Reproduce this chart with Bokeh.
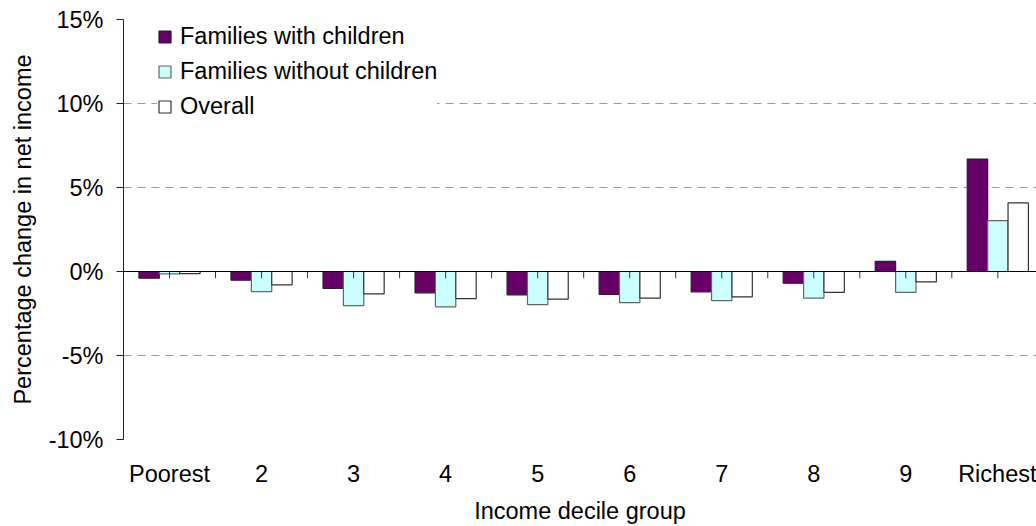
from bokeh.plotting import figure
from bokeh.models import (ColumnDataSource, FixedTicker, PrintfTickFormatter, Span,
                          Legend, LegendItem, Range1d)
from bokeh.embed import file_html
from bokeh.resources import INLINE

categories = ["Poorest", "2", "3", "4", "5", "6", "7", "8", "9", "Richest"]
with_children = [-0.40, -0.52, -1.00, -1.27, -1.39, -1.37, -1.21, -0.70, 0.60, 6.69]
without_children = [-0.14, -1.20, -2.03, -2.11, -1.97, -1.85, -1.73, -1.59, -1.24, 3.03]
overall = [-0.13, -0.80, -1.33, -1.61, -1.65, -1.59, -1.51, -1.24, -0.62, 4.08]
y_ticks = [-10, -5, 0, 5, 10, 15]

FONT = "Liberation Sans"
FS = "23.5px"
BW = 0.2215

n = len(categories)
idx = list(range(n))

p = figure(width=1036, height=526, output_backend="svg", toolbar_location=None,
           x_range=Range1d(-0.5, n - 0.58), y_range=Range1d(-10, 15),
           min_border_top=19, min_border_left=123, min_border_right=0, min_border_bottom=0)
p.outline_line_color = None
p.background_fill_color = "white"
p.border_fill_color = "white"

series = [
    ("Families with children", with_children, "#660066", "#222222", -BW),
    ("Families without children", without_children, "#CCFFFF", "#666666", 0.0),
    ("Overall", overall, "#FFFFFF", "#333333", BW),
]
items = []
for label, vals, fill, line, off in series:
    src = ColumnDataSource(dict(x=[i + off for i in idx], top=vals))
    r = p.vbar(x="x", top="top", bottom=0, width=BW, source=src,
               fill_color=fill, line_color=line, line_width=1.2)
    items.append(LegendItem(label=label, renderers=[r]))

# category tick marks on the zero line
tx = [i * 0.5 - 0.5 for i in range(2 * n + 1)]
p.segment(x0=tx, y0=[0] * len(tx), x1=tx, y1=[-0.4] * len(tx), line_color="#333333", line_width=1)

p.add_layout(Span(location=0, dimension="width", line_color="black", line_width=1.2))

# y axis
p.yaxis.ticker = FixedTicker(ticks=y_ticks)
p.yaxis.formatter = PrintfTickFormatter(format="%d%%")
p.yaxis.axis_line_color = "#222222"
p.yaxis.major_tick_line_color = "#222222"
p.yaxis.major_tick_out = 7
p.yaxis.major_tick_in = 0
p.yaxis.minor_tick_line_color = None
p.yaxis.major_label_standoff = 13
p.yaxis.major_label_text_font = FONT
p.yaxis.major_label_text_font_size = FS
p.yaxis.major_label_text_color = "black"
p.yaxis.axis_label = "Percentage change in net income"
p.yaxis.axis_label_text_font = FONT
p.yaxis.axis_label_text_font_size = FS
p.yaxis.axis_label_text_font_style = "normal"
p.yaxis.axis_label_text_color = "black"
p.yaxis.axis_label_standoff = 10

# x axis
p.xaxis.ticker = FixedTicker(ticks=idx)
p.xaxis.major_label_overrides = {i: c for i, c in zip(idx, categories)}
p.xaxis.axis_line_color = None
p.xaxis.major_tick_line_color = None
p.xaxis.minor_tick_line_color = None
p.xaxis.major_label_standoff = 15
p.xaxis.major_label_text_font = FONT
p.xaxis.major_label_text_font_size = FS
p.xaxis.major_label_text_color = "black"
p.xaxis.axis_label = "Income decile group"
p.xaxis.axis_label_text_font = FONT
p.xaxis.axis_label_text_font_size = FS
p.xaxis.axis_label_text_font_style = "normal"
p.xaxis.axis_label_text_color = "black"
p.xaxis.axis_label_standoff = 8

p.xgrid.visible = False
p.ygrid.ticker = FixedTicker(ticks=[t for t in y_ticks if t != 0])
p.ygrid.grid_line_color = "#999999"
p.ygrid.grid_line_dash = "8 6"
p.ygrid.grid_line_width = 1

legend = Legend(items=items, location=(34, 319), border_line_color=None,
                background_fill_color="white", background_fill_alpha=1.0,
                label_text_font=FONT, label_text_font_size=FS, label_text_color="black",
                glyph_width=15, glyph_height=15, label_standoff=8, spacing=8,
                padding=12, margin=0)
p.add_layout(legend)

open("out.html", "w").write(file_html(p, INLINE))
